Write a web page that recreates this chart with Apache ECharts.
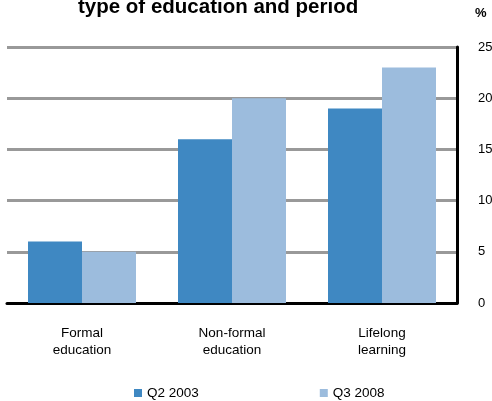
<!DOCTYPE html>
<html>
<head>
<meta charset="utf-8">
<script src="https://cdn.jsdelivr.net/npm/echarts@6/dist/echarts.min.js"></script>
<style>
  html, body { margin: 0; padding: 0; background: #fff; }
  #chart { width: 492px; height: 401px; }
</style>
</head>
<body>
<div id="chart"></div>
<script>
// Participation by type of education, two survey periods (%)
const categories = ['Formal\neducation', 'Non-formal\neducation', 'Lifelong\nlearning'];
const seriesNames = ['Q2 2003', 'Q3 2008'];
const q2_2003 = [6, 16, 19];
const q3_2008 = [5, 20, 23];
const yTicks = { min: 0, max: 25, interval: 5 };

const chart = echarts.init(document.getElementById('chart'), null, { renderer: 'canvas' });
const font = 'Liberation Sans, Arial, sans-serif';

chart.setOption({
  animation: false,
  backgroundColor: '#ffffff',
  title: [{
    text: 'type of education and period',
    left: 78,
    top: -3,
    padding: 0,
    textStyle: { fontFamily: font, fontSize: 20.5, fontWeight: 'bold', color: '#000' }
  }, {
    text: '%',
    left: 475,
    top: 7,
    padding: 0,
    textStyle: { fontFamily: font, fontSize: 13, fontWeight: 'bold', color: '#000' }
  }],
  legend: {
    data: seriesNames,
    left: 129,
    top: 381,
    icon: 'rect',
    itemWidth: 8,
    itemHeight: 8,
    itemGap: 121,
    textStyle: { fontFamily: font, fontSize: 13.5, color: '#000' }
  },
  grid: {
    left: 7, right: 35, top: 47, bottom: 98,
    containLabel: false,
    outerBoundsMode: 'none'
  },
  xAxis: {
    type: 'category',
    data: categories,
    axisLine: { show: true, lineStyle: { color: '#000', width: 3 } },
    axisTick: { show: false },
    axisLabel: {
      fontFamily: font, fontSize: 13.5, color: '#000',
      lineHeight: 17, margin: 22, interval: 0
    }
  },
  yAxis: {
    type: 'value',
    position: 'right',
    min: yTicks.min, max: yTicks.max, interval: yTicks.interval,
    axisLine: { show: true, lineStyle: { color: '#000', width: 3 } },
    axisTick: { show: false },
    splitLine: { show: true, lineStyle: { color: '#999999', width: 3 } },
    axisLabel: { fontFamily: font, fontSize: 13, color: '#000', margin: 21 }
  },
  series: [{
    name: seriesNames[0],
    type: 'bar',
    data: q2_2003,
    itemStyle: { color: '#3F88C2' },
    barGap: '0%',
    barCategoryGap: '28%'
  }, {
    name: seriesNames[1],
    type: 'bar',
    data: q3_2008,
    itemStyle: { color: '#9CBCDD' },
    barGap: '0%',
    barCategoryGap: '28%'
  }]
});
</script>
</body>
</html>
